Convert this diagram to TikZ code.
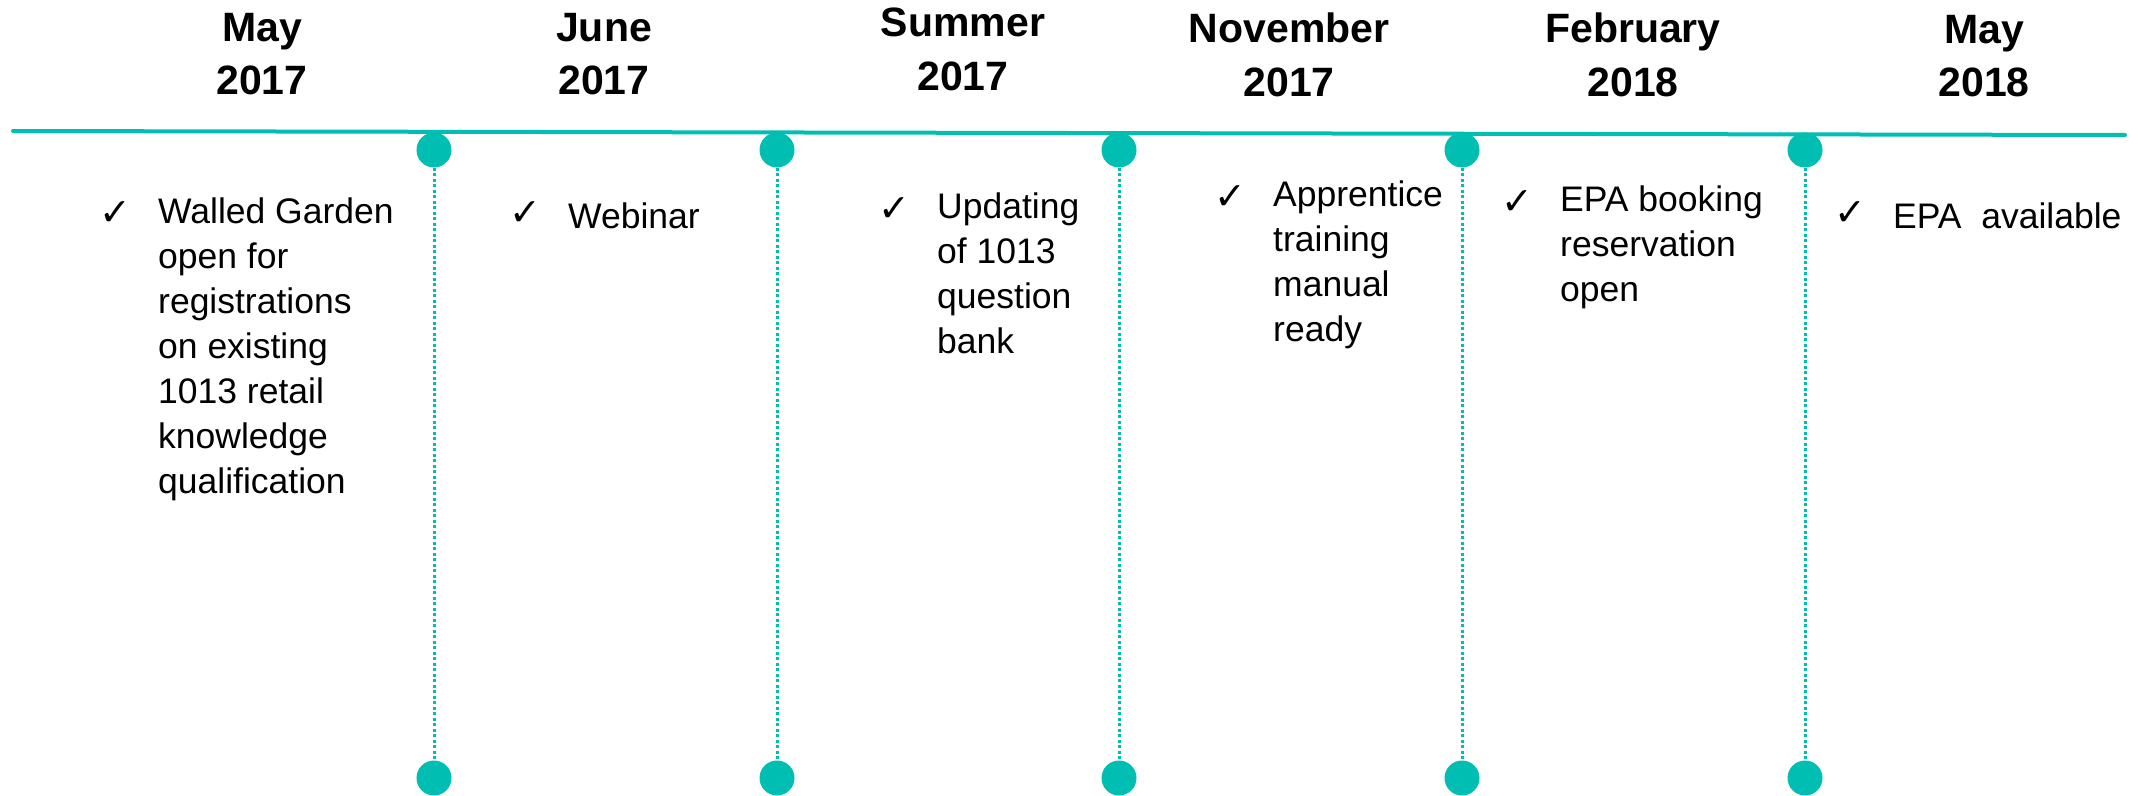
\documentclass[tikz,border=0pt]{standalone}
\usepackage{fontspec}
\setmainfont{Liberation Sans}
\newfontfamily\tickfont{DejaVu Sans}
\definecolor{tealline}{HTML}{00BFB2}

\begin{document}
\begin{tikzpicture}[x=1pt, y=-1pt,
                    dot node/.style={circle,fill=tealline,minimum size=35pt,inner sep=0pt},
                    date node/.style={align=center,anchor=north,inner sep=0pt,execute at begin node=\strut,font=\fontsize{41}{53.5}\selectfont\bfseries},
                    item node/.style={align=left,anchor=north west,inner sep=0pt,execute at begin node=\strut,font=\fontsize{35.5}{45}\selectfont},
                    tick node/.style={anchor=base west,inner sep=0pt,font=\tickfont\fontsize{38}{38}\selectfont}]

  \useasboundingbox (0,0) rectangle (2138,795);

  % the time line
  \coordinate (l) at (13,131);
  \coordinate (r) at (2125,135);
  \draw[tealline, line width=4pt, line cap=round] (l) -- (r);

  \node[dot node] (1) at (434,150) {};
  \node[dot node] (2) at (777,150) {};
  \node[dot node] (3) at (1119,150) {};
  \node[dot node] (4) at (1462,150) {};
  \node[dot node] (5) at (1805,150) {};
  \node[dot node] (6) at (434,778) {};
  \node[dot node] (7) at (777,778) {};
  \node[dot node] (8) at (1119,778) {};
  \node[dot node] (9) at (1462,778) {};
  \node[dot node] (10) at (1805,778) {};

  % dates
  \node[date node] (m1) at (262,13) {May\\2017};
  \node[date node] (m2) at (604,13) {June\\2017};
  \node[date node] (m3) at (963,8) {Summer\\2017};
  \node[date node] (m4) at (1289,13) {November\\2017};
  \node[date node] (m5) at (1633,13) {February\\2018};
  \node[date node] (m6) at (1984,15) {May\\2018};

  % items
  \node[item node] (t1) at (158,198) {Walled Garden\\open for\\registrations\\on existing\\1013 retail\\knowledge\\qualification};
  \node[item node] (t2) at (568,197) {Webinar};
  \node[item node] (t3) at (937,193) {Updating\\of 1013\\question\\bank};
  \node[item node] (t4) at (1273,181) {Apprentice\\training\\manual\\ready};
  \node[item node] (t5) at (1560,186) {EPA booking\\reservation\\open};
  \node[item node] (t6) at (1893,197) {EPA\ \ available};

  \node[tick node] (c1) at (99,225) {✓};
  \node[tick node] (c2) at (509,225) {✓};
  \node[tick node] (c3) at (878,221) {✓};
  \node[tick node] (c4) at (1214,209) {✓};
  \node[tick node] (c5) at (1501,214) {✓};
  \node[tick node] (c6) at (1834,225) {✓};

\path[draw=tealline, line width=3pt, dash pattern=on 3pt off 2.5pt]
    (1) edge (6)
    (2) edge (7)
    (3) edge (8)
    (4) edge (9)
    (5) edge (10);

\end{tikzpicture}
\end{document}
